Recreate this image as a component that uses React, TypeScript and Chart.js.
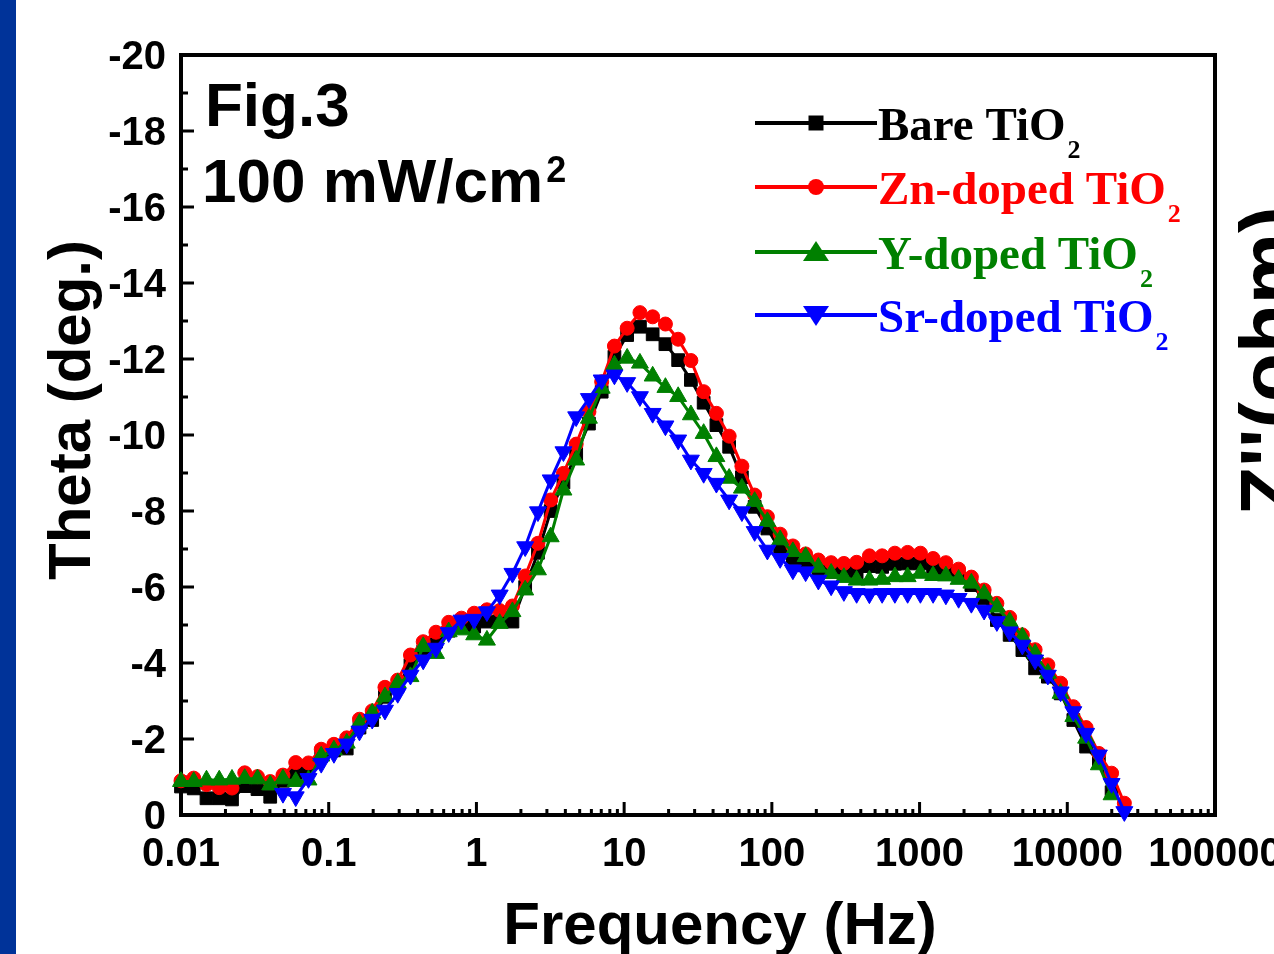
import React, { useEffect, useRef } from "react";
import { Chart, registerables } from "chart.js";

Chart.register(...registerables);

// Frequency (Hz) of each measured point
const frequencies = [
  0.01, 0.0122, 0.01488, 0.01815, 0.02214, 0.02701, 0.03294, 0.04018, 0.04901, 0.05979,
  0.07295, 0.08898, 0.1085, 0.1324, 0.1615, 0.197, 0.2403, 0.2932, 0.3576, 0.4362,
  0.5321, 0.6491, 0.7918, 0.9658, 1.178, 1.437, 1.753, 2.138, 2.609, 3.182,
  3.882, 4.735, 5.776, 7.046, 8.595, 10.48, 12.79, 15.6, 19.03, 23.21,
  28.31, 34.54, 42.13, 51.39, 62.69, 76.47, 93.28, 113.8, 138.8, 169.3,
  206.5, 252, 307.3, 374.9, 457.3, 557.9, 680.6, 830.2, 1013, 1235,
  1507, 1838, 2242, 2735, 3337, 4070, 4965, 6057, 7389, 9010,
  10990, 13410, 16360, 19950, 24340,
];

// Theta (deg.) per series
const bareTiO2 = [
  -0.75, -0.7, -0.44, -0.44, -0.41, -0.76, -0.68, -0.48, -0.9, -1.11,
  -1.2, -1.55, -1.7, -1.75, -2.3, -2.5, -3.11, -3.4, -3.95, -4.3,
  -4.56, -4.85, -5.05, -4.96, -5.09, -5.1, -5.09, -6.0, -6.9, -8.0,
  -8.75, -9.5, -10.3, -11.14, -12.06, -12.63, -12.85, -12.65, -12.39, -11.97,
  -11.45, -10.85, -10.26, -9.69, -8.89, -8.11, -7.54, -6.97, -6.75, -6.58,
  -6.45, -6.4, -6.38, -6.38, -6.55, -6.53, -6.61, -6.62, -6.62, -6.45,
  -6.36, -6.3, -6.05, -5.7, -5.13, -4.74, -4.34, -3.86, -3.64, -3.2,
  -2.5, -1.8, -1.4, -0.6, null,
];
const znTiO2 = [
  -0.9, -0.97, -0.8, -0.72, -0.71, -1.11, -1.01, -0.88, -1.05, -1.38,
  -1.37, -1.73, -1.86, -2.03, -2.52, -2.74, -3.36, -3.55, -4.21, -4.56,
  -4.81, -5.07, -5.18, -5.31, -5.4, -5.38, -5.5, -6.29, -7.15, -8.29,
  -8.99, -9.76, -10.61, -11.4, -12.34, -12.81, -13.22, -13.11, -12.92, -12.52,
  -11.96, -11.14, -10.57, -9.97, -9.18, -8.42, -7.85, -7.39, -7.08, -6.87,
  -6.71, -6.64, -6.62, -6.65, -6.82, -6.82, -6.89, -6.91, -6.89, -6.75,
  -6.64, -6.47, -6.26, -5.92, -5.57, -5.2, -4.74, -4.35, -3.95, -3.47,
  -2.85, -2.3, -1.62, -1.1, -0.31,
];
const yTiO2 = [
  -0.88, -0.88, -0.92, -0.92, -0.94, -0.96, -0.95, -0.79, -0.95, -0.88,
  -0.92, -1.55, -1.71, -1.89, -2.41, -2.68, -3.11, -3.47, -3.64, -4.43,
  -4.25, -4.82, -4.87, -4.74, -4.6, -5.04, -5.35, -5.92, -6.45, -7.32,
  -8.55, -9.34, -10.44, -11.23, -11.84, -12.02, -11.89, -11.55, -11.25, -11.01,
  -10.53, -10.04, -9.43, -8.86, -8.6, -8.25, -7.72, -7.24, -6.93, -6.8,
  -6.52, -6.36, -6.25, -6.18, -6.18, -6.2, -6.27, -6.27, -6.36, -6.3,
  -6.29, -6.2, -6.1, -5.82, -5.47, -5.09, -4.69, -4.25, -3.73, -3.2,
  -2.59, -2.02, -1.32, -0.53, null,
];
const srTiO2 = [
  null, null, null, null, null, null, null, null, -0.57, -0.48,
  -0.96, -1.36, -1.62, -1.87, -2.21, -2.52, -2.76, -3.2, -3.68, -4.08,
  -4.39, -4.8, -5.13, -5.15, -5.35, -5.79, -6.36, -7.06, -7.98, -8.82,
  -9.56, -10.48, -10.96, -11.45, -11.58, -11.38, -11.01, -10.57, -10.24, -9.87,
  -9.34, -8.99, -8.73, -8.29, -7.98, -7.46, -6.97, -6.75, -6.45, -6.4,
  -6.18, -6.03, -5.88, -5.83, -5.82, -5.83, -5.83, -5.83, -5.83, -5.83,
  -5.79, -5.7, -5.57, -5.39, -5.09, -4.82, -4.47, -4.08, -3.68, -3.24,
  -2.72, -2.15, -1.58, -0.83, -0.09,
];

const seriesNames = ["Bare TiO", "Zn-doped TiO", "Y-doped TiO", "Sr-doped TiO"];
const seriesColors = ["#000000", "#ff0000", "#008000", "#0000ff"];

const xTickValues = [0.01, 0.1, 1, 10, 100, 1000, 10000, 100000];
const xTickLabels = ["0.01", "0.1", "1", "10", "100", "1000", "10000", "100000"];
const yTickValues = [0, -2, -4, -6, -8, -10, -12, -14, -16, -18, -20];
const yTickLabels = ["0", "-2", "-4", "-6", "-8", "-10", "-12", "-14", "-16", "-18", "-20"];
const yMinorValues = [-1, -3, -5, -7, -9, -11, -13, -15, -17, -19];

const SANS = '"Liberation Sans", Arial, sans-serif';
const SERIF = '"Liberation Serif", "Times New Roman", serif';

function drawMarker(ctx: CanvasRenderingContext2D, kind: number, cx: number, cy: number, color: string) {
  ctx.fillStyle = color;
  ctx.beginPath();
  if (kind === 0) {
    ctx.rect(cx - 7.5, cy - 7.5, 15, 15);
  } else if (kind === 1) {
    ctx.arc(cx, cy, 8, 0, Math.PI * 2);
  } else if (kind === 2) {
    ctx.moveTo(cx, cy - 11);
    ctx.lineTo(cx + 13, cy + 9);
    ctx.lineTo(cx - 13, cy + 9);
    ctx.closePath();
  } else {
    ctx.moveTo(cx, cy + 11);
    ctx.lineTo(cx + 13, cy - 9);
    ctx.lineTo(cx - 13, cy - 9);
    ctx.closePath();
  }
  ctx.fill();
}

const decorPlugin = {
  id: "decor",
  beforeDatasetsDraw(chart: any) {
    const { ctx, chartArea: a, scales } = chart;
    const xs = scales.x;
    const ys = scales.y;
    ctx.save();
    ctx.strokeStyle = "#000";
    ctx.lineWidth = 3;
    ctx.beginPath();
    for (const v of yTickValues) {
      const py = ys.getPixelForValue(v);
      ctx.moveTo(a.left, py);
      ctx.lineTo(a.left + 13, py);
    }
    for (const v of yMinorValues) {
      const py = ys.getPixelForValue(v);
      ctx.moveTo(a.left, py);
      ctx.lineTo(a.left + 7, py);
    }
    for (const v of xTickValues) {
      const px = xs.getPixelForValue(v);
      ctx.moveTo(px, a.bottom);
      ctx.lineTo(px, a.bottom - 13);
    }
    for (let d = 0; d < xTickValues.length - 1; d++) {
      for (let k = 2; k <= 9; k++) {
        const px = xs.getPixelForValue(xTickValues[d] * k);
        ctx.moveTo(px, a.bottom);
        ctx.lineTo(px, a.bottom - 6);
      }
    }
    ctx.stroke();
    ctx.lineWidth = 4;
    ctx.strokeRect(a.left, a.top, a.right - a.left, a.bottom - a.top);
    ctx.restore();
  },
  afterDraw(chart: any) {
    const { ctx, scales } = chart;
    const xs = scales.x;
    const ys = scales.y;
    ctx.save();
    ctx.fillStyle = "#000";
    ctx.textBaseline = "alphabetic";

    // tick labels
    ctx.font = `bold 40px ${SANS}`;
    ctx.textAlign = "center";
    xTickValues.forEach((v, i) => {
      ctx.fillText(xTickLabels[i], xs.getPixelForValue(v), 866);
    });
    ctx.textAlign = "right";
    yTickValues.forEach((v, i) => {
      ctx.fillText(yTickLabels[i], 166, ys.getPixelForValue(v) + 14);
    });

    // axis titles
    ctx.font = `bold 60px ${SANS}`;
    ctx.textAlign = "center";
    ctx.fillText("Frequency (Hz)", 720, 944);
    ctx.save();
    ctx.translate(90, 410);
    ctx.rotate(-Math.PI / 2);
    ctx.fillText("Theta (deg.)", 0, 0);
    ctx.restore();

    // annotation
    ctx.textAlign = "left";
    ctx.font = `bold 62px ${SANS}`;
    ctx.fillText("Fig.3", 205, 126);
    ctx.fillText("100 mW/cm", 202, 202);
    const wcm = ctx.measureText("100 mW/cm").width;
    ctx.font = `bold 36px ${SANS}`;
    ctx.fillText("2", 202 + wcm + 3, 182);

    // legend
    const rows = [123, 187, 252, 315];
    rows.forEach((ry, i) => {
      const col = seriesColors[i];
      ctx.strokeStyle = col;
      ctx.lineWidth = 4;
      ctx.beginPath();
      ctx.moveTo(755, ry);
      ctx.lineTo(877, ry);
      ctx.stroke();
      drawMarker(ctx, i, 816, ry, col);
      ctx.fillStyle = col;
      ctx.font = `bold 47px ${SERIF}`;
      ctx.fillText(seriesNames[i], 878, ry + 17);
      const w = ctx.measureText(seriesNames[i]).width;
      ctx.font = `bold 26px ${SERIF}`;
      ctx.fillText("2", 878 + w + 2, ry + 35);
    });

    // left blue strip
    ctx.fillStyle = "#003399";
    ctx.fillRect(0, 0, 16, 954);

    // clipped right axis title
    ctx.fillStyle = "#000";
    ctx.font = `bold 80px ${SANS}`;
    ctx.textAlign = "center";
    ctx.save();
    ctx.translate(1296, 361);
    ctx.rotate(-Math.PI / 2);
    ctx.fillText("Z''(ohm)", 0, 0);
    ctx.restore();

    ctx.restore();
  },
};

function makeDataset(values: (number | null)[], i: number, style: string, radius: number, rotation: number, order: number) {
  return {
    label: seriesNames[i] + "2",
    data: frequencies.map((f, k) => ({ x: f, y: values[k] })),
    borderColor: seriesColors[i],
    backgroundColor: seriesColors[i],
    pointBackgroundColor: seriesColors[i],
    pointBorderColor: seriesColors[i],
    pointBorderWidth: 1,
    borderWidth: 3,
    pointStyle: style,
    pointRadius: radius,
    pointRotation: rotation,
    tension: 0,
    spanGaps: false,
    clip: false,
    order,
  };
}

export default function App() {
  const canvasRef = useRef<HTMLCanvasElement | null>(null);

  useEffect(() => {
    document.body.style.margin = "0";
    const canvas = canvasRef.current;
    if (!canvas) return;
    const chart = new Chart(canvas, {
      type: "line",
      data: {
        datasets: [
          makeDataset(bareTiO2, 0, "rect", 9, 0, 4),
          makeDataset(znTiO2, 1, "circle", 7, 0, 3),
          makeDataset(yTiO2, 2, "triangle", 9.8, 0, 2),
          makeDataset(srTiO2, 3, "triangle", 9.8, 180, 1),
        ] as any,
      },
      options: {
        responsive: false,
        animation: false,
        events: [],
        layout: { padding: { left: 181, right: 59, top: 55, bottom: 139 } },
        plugins: { legend: { display: false }, tooltip: { enabled: false } },
        scales: {
          x: {
            type: "logarithmic",
            min: 0.01,
            max: 100000,
            ticks: { display: false },
            grid: { display: false, drawTicks: false },
            border: { display: false },
          },
          y: {
            type: "linear",
            min: -20,
            max: 0,
            reverse: true,
            ticks: { display: false },
            grid: { display: false, drawTicks: false },
            border: { display: false },
          },
        },
      } as any,
      plugins: [decorPlugin],
    });
    return () => chart.destroy();
  }, []);

  return (
    <div style={{ position: "absolute", left: 0, top: 0, width: 1274, height: 954, overflow: "hidden", background: "#fff" }}>
      <canvas ref={canvasRef} width={1274} height={954} style={{ display: "block" }} />
    </div>
  );
}
